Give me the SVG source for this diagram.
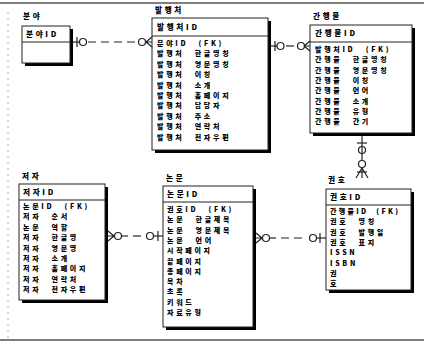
<svg xmlns="http://www.w3.org/2000/svg" width="424" height="346" viewBox="0 0 424 346">
<style>
.t{font-family:"Noto Sans CJK KR","Noto Sans",sans-serif;font-size:7px;font-weight:900;fill:#000;letter-spacing:2.7px;word-spacing:6px;white-space:pre}
.k{font-size:7.6px}
.box{fill:#fff;stroke:#222;stroke-width:1}
.sh{fill:#000}
.div{stroke:#222;stroke-width:1.2}
.ln{stroke:#222;stroke-width:1.2;fill:none}
.dash{stroke:#222;stroke-width:1.2;fill:none;stroke-dasharray:8 5}
.ci{stroke:#222;stroke-width:1.2;fill:#fff}
.frame{stroke:#555;stroke-width:1.5}
</style>
<rect width="424" height="346" fill="#fff"/>
<line class="frame" x1="0" y1="3" x2="424" y2="3"/>
<line class="frame" x1="0" y1="340" x2="424" y2="340"/>
<line x1="8" y1="12" x2="8" y2="338" stroke="#aaa" stroke-width="1" stroke-dasharray="2 4"/>

<g id="bunya">
<text class="t k" x="23" y="19">분야</text>
<rect class="sh" x="70" y="29" width="3" height="37"/>
<rect class="sh" x="25" y="63" width="48" height="3"/>
<rect class="box" x="22" y="26" width="48" height="37"/>
<line class="div" x1="22" y1="42" x2="70" y2="42"/>
<text class="t k" x="26" y="37">분야ID</text>
</g>

<g id="balhaengcheo">
<text class="t k" x="155" y="13">발행처</text>
<rect class="sh" x="268" y="21" width="3" height="132"/>
<rect class="sh" x="155" y="150" width="116" height="3"/>
<rect class="box" x="152" y="18" width="116" height="132"/>
<line class="div" x1="152" y1="36" x2="268" y2="36"/>
<text class="t k" x="157" y="30">발행처ID</text>
<text class="t" x="157" y="46">분야ID (FK)</text>
<text class="t" x="157" y="56.4">발행처 한글명칭</text>
<text class="t" x="157" y="66.8">발행처 영문명칭</text>
<text class="t" x="157" y="77.2">발행처 이칭</text>
<text class="t" x="157" y="87.6">발행처 소개</text>
<text class="t" x="157" y="98">발행처 홈페이지</text>
<text class="t" x="157" y="108.4">발행처 담당자</text>
<text class="t" x="157" y="118.8">발행처 주소</text>
<text class="t" x="157" y="129.2">발행처 연락처</text>
<text class="t" x="157" y="139.6">발행처 전자우편</text>
</g>

<g id="ganhaengmul">
<text class="t k" x="313" y="19">간행물</text>
<rect class="sh" x="412" y="28" width="3" height="108"/>
<rect class="sh" x="313" y="133" width="102" height="3"/>
<rect class="box" x="310" y="25" width="102" height="108"/>
<line class="div" x1="310" y1="42" x2="412" y2="42"/>
<text class="t k" x="315" y="36">간행물ID</text>
<text class="t" x="315" y="52">발행처ID (FK)</text>
<text class="t" x="315" y="62.3">간행물 한글명칭</text>
<text class="t" x="315" y="72.6">간행물 영문명칭</text>
<text class="t" x="315" y="82.9">간행물 이칭</text>
<text class="t" x="315" y="93.2">간행물 언어</text>
<text class="t" x="315" y="103.5">간행물 소개</text>
<text class="t" x="315" y="113.8">간행물 유형</text>
<text class="t" x="315" y="124.1">간행물 간기</text>
</g>

<g id="gwonho">
<text class="t k" x="328" y="183">권호</text>
<rect class="sh" x="411" y="192" width="3" height="101"/>
<rect class="sh" x="329" y="290" width="85" height="3"/>
<rect class="box" x="326" y="189" width="85" height="101"/>
<line class="div" x1="326" y1="205" x2="411" y2="205"/>
<text class="t k" x="330" y="200">권호ID</text>
<text class="t" x="330" y="214" style="letter-spacing:2.3px;word-spacing:4px">간행물ID (FK)</text>
<text class="t" x="330" y="224.3">권호 명칭</text>
<text class="t" x="330" y="234.6">권호 발행일</text>
<text class="t" x="330" y="244.9">권호 표지</text>
<text class="t" x="330" y="255.2">ISSN</text>
<text class="t" x="330" y="265.5">ISBN</text>
<text class="t" x="330" y="275.8">권</text>
<text class="t" x="330" y="286.1">호</text>
</g>

<g id="nonmun">
<text class="t k" x="166" y="181">논문</text>
<rect class="sh" x="253" y="189" width="3" height="141"/>
<rect class="sh" x="166" y="327" width="90" height="3"/>
<rect class="box" x="163" y="186" width="90" height="141"/>
<line class="div" x1="163" y1="202" x2="253" y2="202"/>
<text class="t k" x="167" y="197">논문ID</text>
<text class="t" x="167" y="212">권호ID (FK)</text>
<text class="t" x="167" y="222.3">논문 한글제목</text>
<text class="t" x="167" y="232.6">논문 영문제목</text>
<text class="t" x="167" y="242.9">논문 언어</text>
<text class="t" x="167" y="253.2">시작페이지</text>
<text class="t" x="167" y="263.5">끝페이지</text>
<text class="t" x="167" y="273.8">총페이지</text>
<text class="t" x="167" y="284.1">목차</text>
<text class="t" x="167" y="294.4">초록</text>
<text class="t" x="167" y="304.7">키워드</text>
<text class="t" x="167" y="315">자료유형</text>
</g>

<g id="jeoja">
<text class="t k" x="22" y="179">저자</text>
<rect class="sh" x="105" y="187" width="3" height="116"/>
<rect class="sh" x="22" y="300" width="86" height="3"/>
<rect class="box" x="19" y="184" width="86" height="116"/>
<line class="div" x1="19" y1="200" x2="105" y2="200"/>
<text class="t k" x="23" y="195">저자ID</text>
<text class="t" x="23" y="209">논문ID (FK)</text>
<text class="t" x="23" y="219.4">저자 순서</text>
<text class="t" x="23" y="229.8">논문 역할</text>
<text class="t" x="23" y="240.2">저자 한글명</text>
<text class="t" x="23" y="250.6">저자 영문명</text>
<text class="t" x="23" y="261">저자 소개</text>
<text class="t" x="23" y="271.4">저자 홈페이지</text>
<text class="t" x="23" y="281.8">저자 연락처</text>
<text class="t" x="23" y="292.2">저자 전자우편</text>
</g>

<g id="connectors">
<line class="ln" x1="73" y1="42" x2="79.5" y2="42"/>
<line class="ln" x1="77" y1="37" x2="77" y2="47"/>
<circle class="ci" cx="83" cy="42" r="3.5"/>
<line class="dash" x1="88" y1="42" x2="138" y2="42"/>
<circle class="ci" cx="142" cy="42" r="3.5"/>
<path class="ln" d="M145.5 42H152M146 42L152 37M146 42L152 47"/>
<line class="ln" x1="271" y1="46" x2="277" y2="46"/>
<line class="ln" x1="275" y1="41" x2="275" y2="51"/>
<circle class="ci" cx="280.5" cy="46" r="3.5"/>
<line class="dash" x1="286" y1="46" x2="297" y2="46"/>
<circle class="ci" cx="301" cy="46" r="3.5"/>
<path class="ln" d="M304.5 46H310M304 46L310 41M304 46L310 51"/>
<line class="ln" x1="362" y1="136" x2="362" y2="178"/>
<line class="ln" x1="357" y1="143" x2="367" y2="143"/>
<circle class="ci" cx="362" cy="150" r="3.5"/>
<line class="ln" x1="362" y1="146.5" x2="362" y2="153.5"/>
<circle class="ci" cx="362" cy="164" r="3.5"/>
<line class="ln" x1="357" y1="172" x2="367" y2="172"/>
<path class="ln" d="M362 168L356 178M362 168L368 178"/>
<path class="ln" d="M108 236H114M114 236L108 231M114 236L108 241"/>
<circle class="ci" cx="118" cy="236" r="3.5"/>
<line class="ln" x1="121.5" y1="236" x2="128" y2="236"/>
<line class="dash" x1="133" y1="236" x2="146" y2="236"/>
<circle class="ci" cx="150" cy="236" r="3.5"/>
<line class="ln" x1="153.5" y1="236" x2="163" y2="236"/>
<line class="ln" x1="158" y1="231" x2="158" y2="241"/>
<path class="ln" d="M256 238H262M262 238L256 233M262 238L256 243"/>
<circle class="ci" cx="266" cy="238" r="3.5"/>
<line class="ln" x1="269.5" y1="238" x2="276" y2="238"/>
<line class="dash" x1="281" y1="238" x2="306" y2="238"/>
<circle class="ci" cx="313" cy="238" r="3.5"/>
<line class="ln" x1="316.5" y1="238" x2="326" y2="238"/>
<line class="ln" x1="320" y1="233" x2="320" y2="243"/>
</g>
</svg>
